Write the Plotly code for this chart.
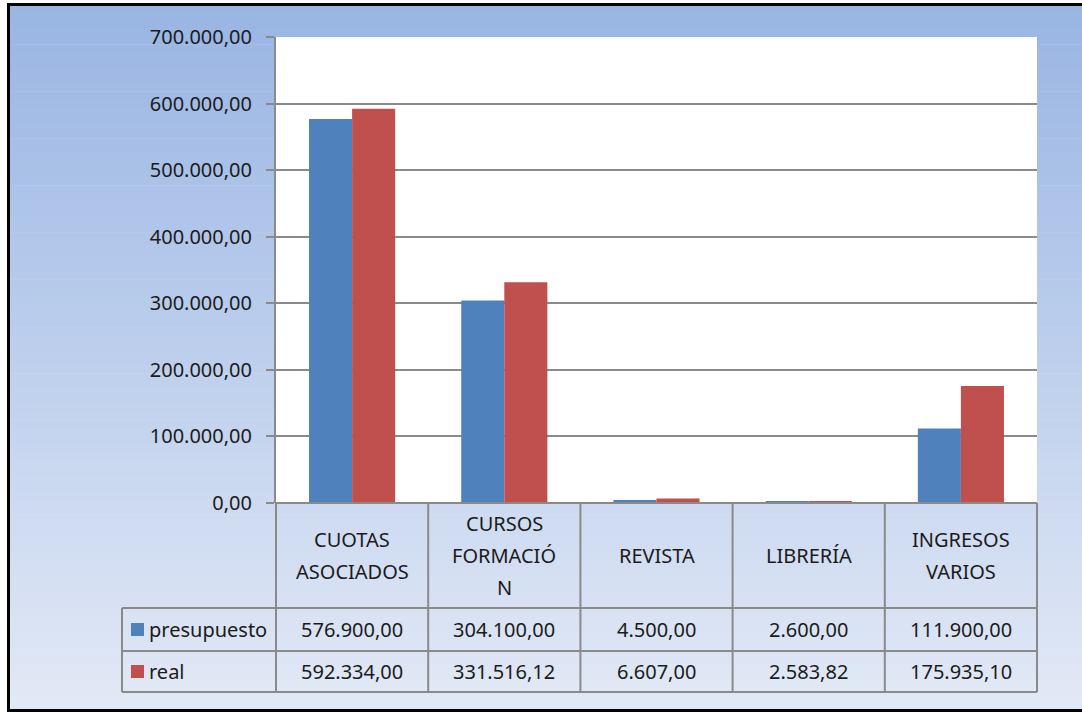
import plotly.graph_objects as go

categories = ["CUOTAS<br>ASOCIADOS", "CURSOS<br>FORMACIÓ<br>N", "REVISTA", "LIBRERÍA", "INGRESOS<br>VARIOS"]
presupuesto = [576900.00, 304100.00, 4500.00, 2600.00, 111900.00]
real = [592334.00, 331516.12, 6607.00, 2583.82, 175935.10]
series_names = ["presupuesto", "real"]
series_colors = ["#4F81BD", "#C0504D"]
y_ticks = [0, 100000, 200000, 300000, 400000, 500000, 600000, 700000]

W, H = 1082, 713
# pixel layout of the plot area
SX0, SX1, SY0, SY1 = 276, 1037, 37, 503
L = SX0
T = SY0
R = W - SX1
B = H - SY1
PW = SX1 - SX0
PH = SY1 - SY0
FONT = "Noto Sans"
TXT = "#1b1b1b"
GRID = "#8A8A8A"


def fmt(v):
    s = f"{v:,.2f}"
    return s.replace(",", "X").replace(".", ",").replace("X", ".")


def py(ypix):
    """pixel y -> paper y"""
    return (SY1 - ypix) / PH


def pxx(xpix):
    """pixel x -> paper x"""
    return (xpix - SX0) / PW


fig = go.Figure()
xs = list(range(len(categories)))
for name, vals, col in zip(series_names, [presupuesto, real], series_colors):
    fig.add_trace(go.Bar(x=xs, y=vals, name=name, marker=dict(color=col, line=dict(width=0)),
                         showlegend=False, hoverinfo="y"))

shapes = []
# background gradient (inside outer border)
top_c = (153, 181, 227)
bot_c = (226, 233, 246)
n = 90
y0p, y1p = 5, 710
for i in range(n):
    t = i / (n - 1)
    c = tuple(round(top_c[k] + (bot_c[k] - top_c[k]) * t) for k in range(3))
    ya = y0p + (y1p - y0p) * i / n
    yb = y0p + (y1p - y0p) * (i + 1) / n + 0.6
    shapes.append(dict(type="rect", xref="paper", yref="paper", layer="below",
                       x0=pxx(9), x1=pxx(W), y0=py(yb), y1=py(ya),
                       line=dict(width=0), fillcolor=f"rgb{c}"))
# white plot area
shapes.append(dict(type="rect", xref="paper", yref="paper", layer="below",
                   x0=0, x1=1, y0=0, y1=1, line=dict(width=0), fillcolor="white"))
# outer black border: top, left, bottom (right side is outside the picture)
bl = dict(color="black", width=3)
shapes.append(dict(type="line", xref="paper", yref="paper", x0=pxx(7), x1=pxx(W),
                   y0=py(4.5), y1=py(4.5), line=bl))
shapes.append(dict(type="line", xref="paper", yref="paper", x0=pxx(8.5), x1=pxx(8.5),
                   y0=py(3), y1=py(712), line=bl))
shapes.append(dict(type="line", xref="paper", yref="paper", x0=pxx(7), x1=pxx(W),
                   y0=py(710.5), y1=py(710.5), line=bl))

# data table geometry
ncat = len(categories)
row_lines = [503, 608, 651, 692]
label_left = pxx(122)
shapes.append(dict(type="line", xref="paper", yref="paper", x0=0, x1=1,
                   y0=py(row_lines[0]), y1=py(row_lines[0]), line=dict(color=GRID, width=2)))
for yl in row_lines[1:]:
    shapes.append(dict(type="line", xref="paper", yref="paper", x0=label_left, x1=1,
                       y0=py(yl), y1=py(yl), line=dict(color=GRID, width=2)))
for i in range(ncat + 1):
    xp = i / ncat
    shapes.append(dict(type="line", xref="paper", yref="paper", x0=xp, x1=xp,
                       y0=py(row_lines[0]), y1=py(row_lines[-1]), line=dict(color=GRID, width=2)))
shapes.append(dict(type="line", xref="paper", yref="paper", x0=label_left, x1=label_left,
                   y0=py(row_lines[1]), y1=py(row_lines[-1]), line=dict(color=GRID, width=2)))

annotations = []
FS = 20
LINE_H = 32
hmid = (row_lines[0] + row_lines[1]) / 2
for i, cat in enumerate(categories):
    lines = cat.split("<br>")
    k = len(lines)
    for j, ln in enumerate(lines):
        yc = hmid + (j - (k - 1) / 2) * LINE_H
        annotations.append(dict(xref="paper", yref="paper", x=(i + 0.5) / ncat, y=py(yc), text=ln,
                                showarrow=False, xanchor="center", yanchor="middle",
                                font=dict(family=FONT, size=FS, color=TXT)))
for r, (name, vals, col) in enumerate(zip(series_names, [presupuesto, real], series_colors)):
    ya, yb = row_lines[r + 1], row_lines[r + 2]
    ym = py((ya + yb) / 2)
    for i, v in enumerate(vals):
        annotations.append(dict(xref="paper", yref="paper", x=(i + 0.5) / ncat, y=ym, text=fmt(v),
                                showarrow=False, xanchor="center", yanchor="middle",
                                font=dict(family=FONT, size=FS, color=TXT)))
    shapes.append(dict(type="rect", xref="paper", yref="paper",
                       x0=pxx(131), x1=pxx(144),
                       y0=py((ya + yb) / 2 + 6.5), y1=py((ya + yb) / 2 - 6.5),
                       line=dict(width=0), fillcolor=col))
    annotations.append(dict(xref="paper", yref="paper", x=pxx(147), y=ym, text=name,
                            showarrow=False, xanchor="left", yanchor="middle",
                            font=dict(family=FONT, size=FS, color=TXT)))

fig.update_layout(
    width=W, height=H,
    margin=dict(l=L, r=R, t=T, b=B, pad=0),
    paper_bgcolor="white",
    plot_bgcolor="white",
    separators=",.",
    barmode="group",
    bargap=0.434,
    bargroupgap=0,
    shapes=shapes,
    annotations=annotations,
    font=dict(family=FONT, size=FS, color=TXT),
    xaxis=dict(range=[-0.5, ncat - 0.5], showticklabels=False, showgrid=False, zeroline=False,
               showline=False, ticks="", fixedrange=True),
    yaxis=dict(range=[0, 700000], tickvals=y_ticks, tickformat=",.2f",
               showgrid=True, gridcolor=GRID, gridwidth=2, zeroline=False,
               showline=True, linecolor=GRID, linewidth=2,
               ticks="outside", ticklen=8, tickwidth=2, tickcolor=GRID,
               ticklabelstandoff=10,
               tickfont=dict(family=FONT, size=FS, color=TXT), fixedrange=True),
)

fig.write_html("out.html", config={"displayModeBar": False},
               post_script="document.body.style.margin='0';document.body.style.overflow='hidden';")
